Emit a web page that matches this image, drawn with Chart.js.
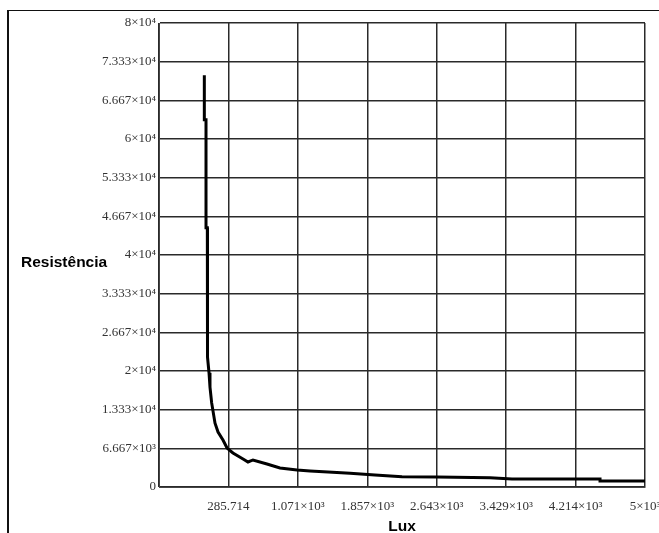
<!DOCTYPE html>
<html>
<head>
<meta charset="utf-8">
<title>Resistência x Lux</title>
<script src="https://cdn.jsdelivr.net/npm/chart.js@4/dist/chart.umd.min.js"></script>
<style>
  html, body { margin:0; padding:0; background:#fff; overflow:hidden; }
  #wrap { position:relative; width:700px; height:533px; }
  #frame { position:absolute; left:7px; top:10px; width:720px; height:600px;
           border-left:2px solid #111; border-top:1px solid #111; }
  #plot { position:absolute; left:0; top:0; }
</style>
</head>
<body>
<div id="wrap">
  <div id="frame"></div>
  <canvas id="plot" width="700" height="533"></canvas>
</div>
<script>
// measured curve: light intensity (lux) vs. LDR resistance (ohm)
const luxValues = [13, 13, 32, 32, 47, 47, 51, 66, 77, 96, 134, 168, 224, 270, 337, 451,
  507, 564, 722, 869, 1062, 1209, 1413, 1662, 1944, 2250, 2646, 3246, 3495, 4491, 4491, 5000];
const resistValues = [71000, 63300, 63300, 44700, 44700, 32600, 22400, 19700, 17200, 14500,
  11000, 9480, 8100, 6720, 5860, 4830, 4310, 4660, 3970, 3280, 2930, 2760, 2590, 2360, 2070,
  1780, 1720, 1600, 1380, 1380, 1030, 1030];

// axis ticks, as the original plot labels them
const xTickValues = [-500, 285.714, 1071.429, 1857.143, 2642.857, 3428.571, 4214.286, 5000];
const xTickLabels = ['', '285.714', '1.071×10³', '1.857×10³', '2.643×10³', '3.429×10³', '4.214×10³', '5×10³'];
const yTickValues = [0, 6666.67, 13333.3, 20000, 26666.7, 33333.3, 40000, 46666.7, 53333.3, 60000, 66666.7, 73333.3, 80000];
const yTickLabels = ['0', '6.667×10³', '1.333×10⁴', '2×10⁴', '2.667×10⁴', '3.333×10⁴', '4×10⁴',
  '4.667×10⁴', '5.333×10⁴', '6×10⁴', '6.667×10⁴', '7.333×10⁴', '8×10⁴'];

const xTitle = 'Lux';
const yTitle = 'Resistência';

const points = luxValues.map((v, i) => ({ x: v, y: resistValues[i] }));

// horizontal axis titles drawn by hand (y title is not rotated)
const axisTitles = {
  id: 'axisTitles',
  afterDraw(chart) {
    const { ctx, chartArea } = chart;
    ctx.save();
    ctx.fillStyle = '#000';
    ctx.font = 'bold 15.5px "Liberation Sans", Arial, sans-serif';
    ctx.textBaseline = 'alphabetic';
    ctx.textAlign = 'left';
    ctx.fillText(yTitle, 21, 267);
    ctx.textAlign = 'center';
    ctx.fillText(xTitle, (chartArea.left + chartArea.right) / 2, 531);
    ctx.restore();
  }
};

const tickFont = { family: '"Liberation Serif", "Times New Roman", serif', size: 13 };
const gridStyle = { color: '#2a2a2a', lineWidth: 1.5, drawTicks: false };

new Chart(document.getElementById('plot'), {
  type: 'scatter',
  data: {
    datasets: [{
      data: points,
      showLine: true,
      borderColor: '#000',
      borderWidth: 3,
      pointRadius: 0,
      tension: 0
    }]
  },
  options: {
    responsive: false,
    animation: false,
    layout: { padding: { left: 0, top: 23, right: 55, bottom: 0 } },
    plugins: { legend: { display: false }, tooltip: { enabled: false } },
    scales: {
      x: {
        type: 'linear', min: -500, max: 5000,
        grid: gridStyle,
        border: { color: '#444', width: 1 },
        afterBuildTicks: s => { s.ticks = xTickValues.map(v => ({ value: v })); },
        afterFit: s => { s.height = 46; s.paddingLeft = 0; s.paddingRight = 0; },
        ticks: {
          font: tickFont, color: '#333', padding: 12, maxRotation: 0, autoSkip: false,
          callback: (v, i) => xTickLabels[i]
        }
      },
      y: {
        type: 'linear', min: 0, max: 80000,
        grid: gridStyle,
        border: { color: '#444', width: 1 },
        afterBuildTicks: s => { s.ticks = yTickValues.map(v => ({ value: v })); },
        afterFit: s => { s.width = 159; s.paddingTop = 0; s.paddingBottom = 0; },
        ticks: {
          font: tickFont, color: '#333', padding: 3, autoSkip: false,
          callback: (v, i) => yTickLabels[i]
        }
      }
    }
  },
  plugins: [axisTitles]
});
</script>
</body>
</html>
